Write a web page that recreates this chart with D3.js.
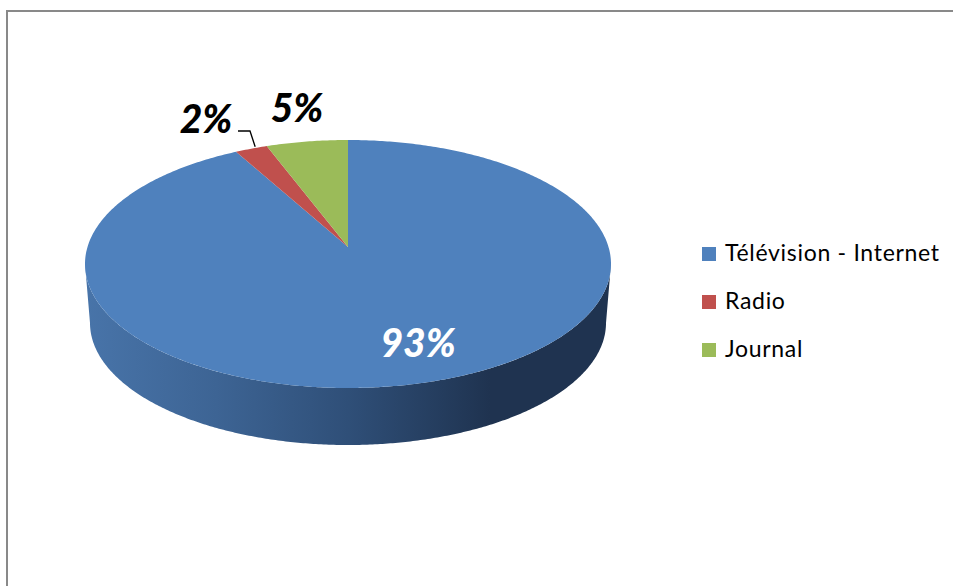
<!DOCTYPE html>
<html>
<head>
<meta charset="utf-8">
<script src="https://cdn.jsdelivr.net/npm/d3@7"></script>
<style>
  body { margin: 0; background: #fff; }
  svg { display: block; }
</style>
</head>
<body>
<svg id="chart"></svg>
<script>
const width = 953;
const height = 586;

const categories = ['Télévision - Internet', 'Radio', 'Journal'];
const values = [93, 2, 5];
const labels = ['93%', '2%', '5%'];
const colors = ['#4f81bd', '#c0504d', '#9bbb59'];

// pie geometry (top face ellipse)
const cx = 348, cy = 264, rx = 263, ry = 124;
const apexY = 247;
const depth = 59;
const rxBottom = 258, ryBottom = 122;

const svg = d3.select('#chart')
  .attr('width', width)
  .attr('height', height);

const color = d3.scaleOrdinal().domain(categories).range(colors);

// chart frame
svg.append('rect')
  .attr('x', 7).attr('y', 11)
  .attr('width', width + 20).attr('height', height + 20)
  .attr('fill', 'none')
  .attr('stroke', '#898989')
  .attr('stroke-width', 2);

const defs = svg.append('defs');
const grad = defs.append('linearGradient')
  .attr('id', 'side')
  .attr('gradientUnits', 'userSpaceOnUse')
  .attr('x1', cx - rx).attr('x2', cx + rx)
  .attr('y1', 0).attr('y2', 0);
[[0, '#4874a9'], [0.25, '#3d6494'], [0.5, '#2f4f78'], [0.77, '#1f3350'], [1, '#1f3350']]
  .forEach(s => grad.append('stop').attr('offset', s[0]).attr('stop-color', s[1]));

// angle -> point on ellipse (clockwise from 12 o'clock)
const pt = (a, rX, rY, oy) => [cx + rX * Math.sin(a), cy + oy - rY * Math.cos(a)];

function arcPoints(a0, a1, rX, rY, oy) {
  const n = Math.max(2, Math.ceil(Math.abs(a1 - a0) / 0.01));
  return d3.range(n + 1).map(i => pt(a0 + (a1 - a0) * i / n, rX, rY, oy));
}

const pie = d3.pie().sort(null).value(d => d.value);
const arcs = pie(categories.map((c, i) => ({ name: c, value: values[i], label: labels[i] })));

// front side (visible half, all blue)
const sideTop = arcPoints(Math.PI / 2, Math.PI * 1.5, rx, ry, 0);
const sideBot = arcPoints(Math.PI * 1.5, Math.PI / 2, rxBottom, ryBottom, depth);
svg.append('path')
  .attr('d', d3.line()(sideTop.concat(sideBot)) + 'Z')
  .attr('fill', 'url(#side)');

// top face slices
svg.selectAll('path.slice')
  .data(arcs)
  .join('path')
  .attr('class', 'slice')
  .attr('d', d => d3.line()([[cx, apexY]].concat(arcPoints(d.startAngle, d.endAngle, rx, ry, 0))) + 'Z')
  .attr('fill', d => color(d.data.name));

// data labels
const labelFont = "'Lato', 'DejaVu Sans', sans-serif";
const labelPos = {
  '93%': [418, 357, '#fff'],
  '2%': [206, 133, '#000'],
  '5%': [297, 122, '#000']
};
svg.selectAll('text.val')
  .data(arcs)
  .join('text')
  .attr('class', 'val')
  .attr('x', d => labelPos[d.data.label][0])
  .attr('y', d => labelPos[d.data.label][1])
  .attr('text-anchor', 'middle')
  .attr('font-family', labelFont)
  .attr('font-weight', 900)
  .attr('font-style', 'italic')
  .attr('font-size', 39)
  .attr('fill', d => labelPos[d.data.label][2])
  .text(d => d.data.label);

// leader line for the small slice
const radio = arcs[1];
const mid = (radio.startAngle + radio.endAngle) / 2;
const edge = pt(mid, rx, ry, 0);
svg.append('path')
  .attr('d', d3.line()([[238, 131], [250, 131], [edge[0] + 4, edge[1] - 2]]))
  .attr('fill', 'none')
  .attr('stroke', '#000')
  .attr('stroke-width', 1.3);

// legend
const legend = svg.append('g').attr('transform', 'translate(702,247)');
const rows = legend.selectAll('g')
  .data(categories)
  .join('g')
  .attr('transform', (d, i) => `translate(0,${i * 48})`);
rows.append('rect')
  .attr('width', 14).attr('height', 14)
  .attr('fill', d => color(d));
rows.append('text')
  .attr('x', 23).attr('y', 14)
  .attr('font-family', "'Lato', sans-serif")
  .attr('font-size', 23)
  .attr('letter-spacing', 0.7)
  .attr('fill', '#000')
  .text(d => d);
</script>
</body>
</html>
